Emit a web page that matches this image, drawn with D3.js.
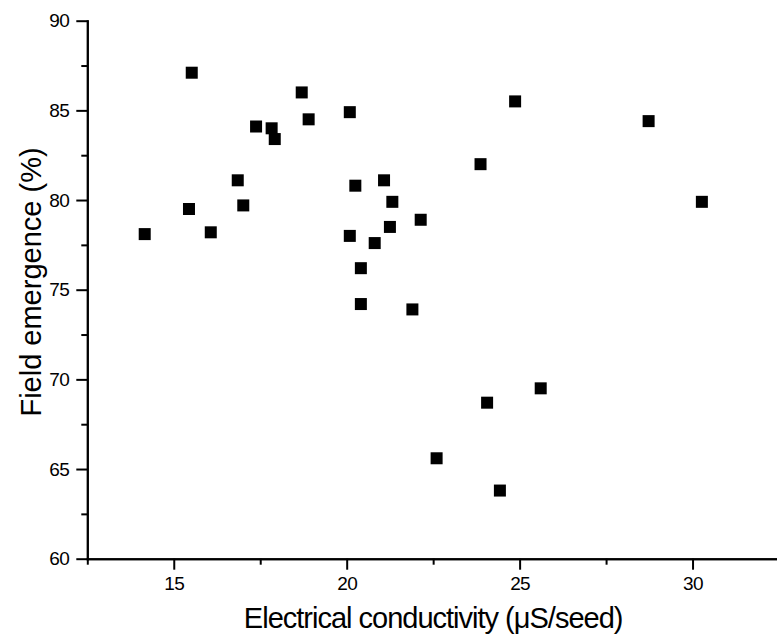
<!DOCTYPE html>
<html>
<head>
<meta charset="utf-8">
<script src="https://cdn.jsdelivr.net/npm/d3@7"></script>
<style>
  html, body { margin: 0; padding: 0; background: #fff; }
  svg { display: block; }
  .axis text { font-family: "Liberation Sans", Arial, sans-serif; font-size: 19px; letter-spacing: -0.6px; fill: #000; }
  .title { font-family: "Liberation Sans", Arial, sans-serif; font-size: 29px; fill: #000; }
</style>
</head>
<body>
<svg id="chart"></svg>
<script>
// electrical conductivity (uS/seed) vs field emergence (%)
var conductivity = [15.52, 18.70, 18.90, 20.09, 17.38, 17.83, 17.92, 16.85, 17.01, 15.44,
    14.16, 16.07, 20.25, 21.08, 21.32, 22.14, 21.25, 20.09, 20.81, 20.41,
    20.41, 21.90, 23.87, 25.61, 24.06, 22.60, 24.43, 24.87, 28.73, 30.27];
var emergence = [87.1, 86.0, 84.5, 84.9, 84.1, 84.0, 83.4, 81.1, 79.7, 79.5,
    78.1, 78.2, 80.8, 81.1, 79.9, 78.9, 78.5, 78.0, 77.6, 76.2,
    74.2, 73.9, 82.0, 69.5, 68.7, 65.6, 63.8, 85.5, 84.4, 79.9];
var xTicks = [15, 20, 25, 30];
var xMinor = [12.5, 17.5, 22.5, 27.5, 32.5];
var yTicks = [60, 65, 70, 75, 80, 85, 90];
var yMinor = [62.5, 67.5, 72.5, 77.5, 82.5, 87.5];

var points = conductivity.map(function (c, i) { return { x: c, y: emergence[i] }; });

var W = 777, H = 636;
var margin = { top: 20.7, right: -2, bottom: 77.3, left: 87.3 };
var width = W - margin.left - margin.right;
var height = H - margin.top - margin.bottom;

var x = d3.scaleLinear().domain([12.5, 32.5]).range([0, width]);
var y = d3.scaleLinear().domain([60, 90]).range([height, 0]);

var svg = d3.select('#chart').attr('width', W).attr('height', H);
var g = svg.append('g')
    .attr('transform', 'translate(' + margin.left + ',' + margin.top + ')');

function styleAxis(sel) {
    sel.selectAll('path, line').attr('stroke', '#000').attr('stroke-width', 2);
    sel.selectAll('path').attr('stroke-linecap', 'square');
}

// minor ticks first, no labels
g.append('g').attr('class', 'axis')
    .attr('transform', 'translate(0,' + height + ')')
    .call(d3.axisBottom(x).tickValues(xMinor).tickSize(6).tickSizeOuter(0).tickFormat(''))
    .call(styleAxis);
g.append('g').attr('class', 'axis')
    .call(d3.axisLeft(y).tickValues(yMinor).tickSize(6).tickSizeOuter(0).tickFormat(''))
    .call(styleAxis);

g.append('g').attr('class', 'axis')
    .attr('transform', 'translate(0,' + height + ')')
    .call(d3.axisBottom(x).tickValues(xTicks).tickSize(11).tickSizeOuter(0).tickPadding(7))
    .call(styleAxis);
g.append('g').attr('class', 'axis')
    .call(d3.axisLeft(y).tickValues(yTicks).tickSize(11).tickSizeOuter(0).tickPadding(7))
    .call(styleAxis);

var s = 12;
g.selectAll('rect.pt')
    .data(points)
    .enter()
    .append('rect')
    .attr('class', 'pt')
    .attr('x', function (d) { return x(d.x) - s / 2; })
    .attr('y', function (d) { return y(d.y) - s / 2; })
    .attr('width', s)
    .attr('height', s)
    .attr('fill', '#000');

svg.append('text')
    .attr('class', 'title')
    .attr('x', margin.left + x(22.5))
    .attr('y', 628)
    .attr('text-anchor', 'middle')
    .style('letter-spacing', '-1px')
    .text('Electrical conductivity (\u03bcS/seed)');

svg.append('text')
    .attr('class', 'title')
    .attr('transform', 'translate(41,282) rotate(-90)')
    .attr('text-anchor', 'middle')
    .text('Field emergence (%)');
</script>
</body>
</html>
